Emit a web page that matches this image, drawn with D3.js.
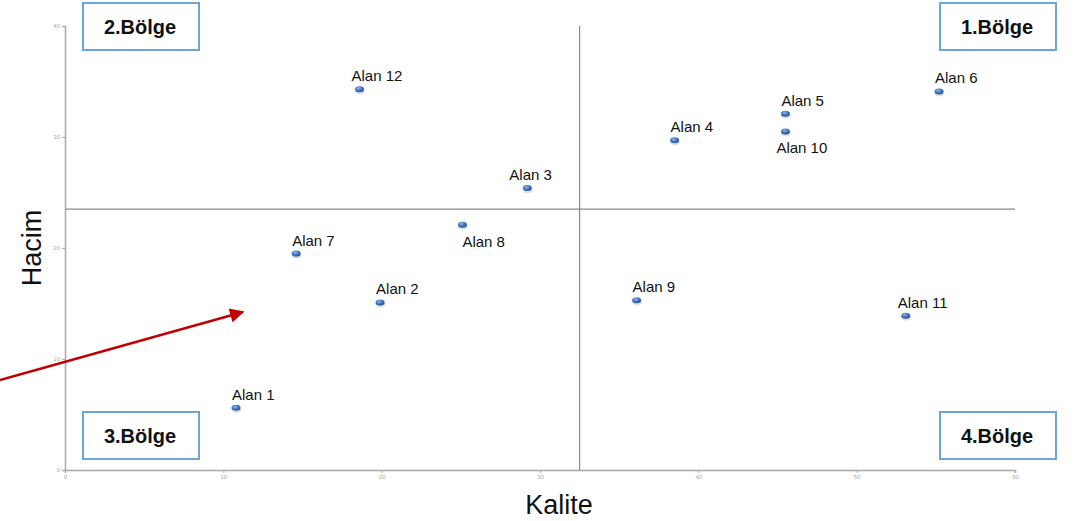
<!DOCTYPE html>
<html>
<head>
<meta charset="utf-8">
<script src="https://cdn.jsdelivr.net/npm/d3@7"></script>
<style>
  html, body { margin: 0; padding: 0; background: #fff; }
  svg { display: block; font-family: "Liberation Sans", Arial, sans-serif; }
</style>
</head>
<body>
<svg id="chart" width="1082" height="521"></svg>
<script>
// ---- data ----
const names   = ["Alan 1","Alan 2","Alan 3","Alan 4","Alan 5","Alan 6","Alan 7","Alan 8","Alan 9","Alan 10","Alan 11","Alan 12"];
const kalite  = [10.8, 19.9, 29.2, 38.5, 45.5, 55.2, 14.6, 25.1, 36.1, 45.5, 53.1, 18.6];
const hacim   = [5.6, 15.1, 25.4, 29.7, 32.1, 34.1, 19.5, 22.1, 15.3, 30.5, 13.9, 34.3];
const xTicks  = [0, 10, 20, 30, 40, 50, 60];
const yTicks  = [0, 10, 20, 30, 40];
const xSplit  = 32.5;
const ySplit  = 23.5;
const regions = ["1.Bölge", "2.Bölge", "3.Bölge", "4.Bölge"];
const xTitle  = "Kalite";
const yTitle  = "Hacim";
const labelsBelow = ["Alan 8", "Alan 10"];

// ---- layout ----
const svg = d3.select("#chart");
const x = d3.scaleLinear().domain([0, 60]).range([65, 1015]);
const y = d3.scaleLinear().domain([0, 40]).range([470, 26]);

const defs = svg.append("defs");
const grad = defs.append("radialGradient").attr("id", "dotg").attr("cx", "40%").attr("cy", "35%").attr("r", "70%");
grad.append("stop").attr("offset", "0%").attr("stop-color", "#8fb6e8");
grad.append("stop").attr("offset", "55%").attr("stop-color", "#3d72bd");
grad.append("stop").attr("offset", "100%").attr("stop-color", "#1f4c8c");
const mk = defs.append("marker").attr("id", "arrow").attr("viewBox", "0 0 10 10")
  .attr("refX", 9).attr("refY", 5).attr("markerWidth", 6).attr("markerHeight", 5.5)
  .attr("markerUnits", "strokeWidth").attr("orient", "auto");
mk.append("path").attr("d", "M0,0 L10,5 L0,10 z").attr("fill", "#c00000");

// axes
const xAxis = d3.axisBottom(x).tickValues(xTicks).tickSize(3).tickPadding(2);
const yAxis = d3.axisLeft(y).tickValues(yTicks).tickSize(3).tickPadding(2);
const gx = svg.append("g").attr("transform", `translate(0,${y(0)})`).call(xAxis);
const gy = svg.append("g").attr("transform", `translate(${x(0)},0)`).call(yAxis);
[gx, gy].forEach(g => {
  g.select(".domain").attr("stroke", "#a8a8a8").attr("stroke-width", 1.5);
  g.selectAll(".tick line").attr("stroke", "#b0b0b0");
  g.selectAll(".tick text").attr("fill", "#aaa").attr("font-size", 6).attr("font-family", "Liberation Sans, Arial, sans-serif");
});

// quadrant lines
svg.append("line").attr("x1", x(xSplit)).attr("x2", x(xSplit)).attr("y1", y(40)).attr("y2", y(0))
  .attr("stroke", "#8a8a8a").attr("stroke-width", 1.2);
svg.append("line").attr("x1", x(0)).attr("x2", x(60)).attr("y1", y(ySplit)).attr("y2", y(ySplit))
  .attr("stroke", "#8a8a8a").attr("stroke-width", 1.2);

// axis titles
svg.append("text").attr("x", x(30) + 19).attr("y", 514).attr("text-anchor", "middle")
  .attr("font-size", 27).attr("fill", "#111").text(xTitle);
svg.append("text").attr("transform", "translate(41,248) rotate(-90)").attr("text-anchor", "middle")
  .attr("font-size", 27).attr("fill", "#111").text(yTitle);

// region boxes
const boxW = 116, boxH = 47;
const boxPos = [
  [940, 3], [83, 3], [83, 412], [940, 412]
];
regions.forEach((r, i) => {
  const [bx, by] = boxPos[i];
  svg.append("rect").attr("x", bx).attr("y", by).attr("width", boxW).attr("height", boxH)
    .attr("fill", "#fff").attr("stroke", "#6fa3dc").attr("stroke-width", 2);
  svg.append("text").attr("x", bx + boxW / 2 - 1).attr("y", by + boxH / 2 + 7).attr("text-anchor", "middle")
    .attr("font-size", 20).attr("font-weight", "bold").attr("fill", "#111").text(r);
});

// points
const pts = names.map((n, i) => ({ n, x: kalite[i], y: hacim[i] }));
const g = svg.append("g");
g.selectAll("ellipse.sh").data(pts).join("ellipse").attr("class", "sh")
  .attr("cx", d => x(d.x) + 0.5).attr("cy", d => y(d.y) + 2).attr("rx", 5).attr("ry", 3)
  .attr("fill", "#000").attr("opacity", 0.12);
g.selectAll("ellipse.pt").data(pts).join("ellipse").attr("class", "pt")
  .attr("cx", d => x(d.x)).attr("cy", d => y(d.y)).attr("rx", 4.5).attr("ry", 3)
  .attr("fill", "url(#dotg)");

// labels
g.selectAll("text.lbl").data(pts).join("text").attr("class", "lbl")
  .attr("x", d => {
    if (d.n === "Alan 3") return x(d.x) - 18;
    if (d.n === "Alan 10") return x(d.x) - 9;
    if (d.n === "Alan 8") return x(d.x);
    if (d.n === "Alan 12" || d.n === "Alan 11") return x(d.x) - 8;
    return x(d.x) - 4;
  })
  .attr("y", d => labelsBelow.includes(d.n) ? y(d.y) + 22 : y(d.y) - 8)
  .attr("font-size", 15).attr("fill", "#111").text(d => d.n);

// red arrow
svg.append("line").attr("x1", 0).attr("y1", 380).attr("x2", 243).attr("y2", 312)
  .attr("stroke", "#c00000").attr("stroke-width", 2.6).attr("marker-end", "url(#arrow)");
</script>
</body>
</html>
